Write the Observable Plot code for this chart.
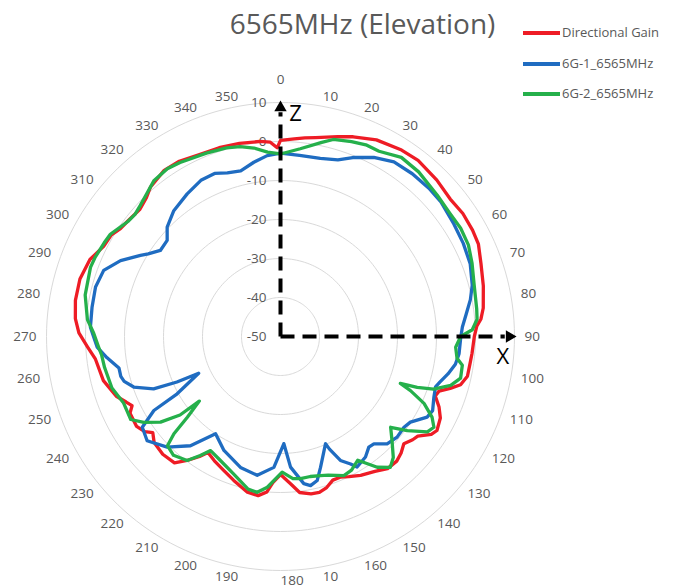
<!DOCTYPE html>
<html>
<head>
<meta charset="utf-8">
<script src="https://cdn.jsdelivr.net/npm/d3@7"></script>
<script src="https://cdn.jsdelivr.net/npm/@observablehq/plot@0.6"></script>
<style>
  body { margin: 0; background: #fff; font-family: "Open Sans", sans-serif; }
  #wrap { position: relative; width: 686px; height: 588px; overflow: hidden; background: #fff; }
  #chart { position: absolute; left: 0; top: 0; }
  #title { position: absolute; left: 0; width: 725px; top: 9px; text-align: center;
           font-size: 28px; line-height: 28px; color: #595959; white-space: nowrap; }
  .lg-line { position: absolute; left: 523px; width: 37px; height: 4px; }
  .lg-text { position: absolute; left: 562px; font-size: 13px; line-height: 13px; color: #595959; white-space: nowrap; }
</style>
</head>
<body>
<div id="wrap">
  <div id="chart"></div>
  <div id="title">6565MHz (Elevation)</div>
  <div id="legend"></div>
</div>
<script>
// ---------- data (angle in degrees, gain in dB) ----------
const seriesNames = ["Directional Gain", "6G-1_6565MHz", "6G-2_6565MHz"];
const seriesColors = ["#ee1c25", "#1f6cc1", "#25b04b"];

const redAngle = [0,4,7,10,16,20,26,33,38,45,51,56,61,65,70,76,82,85,87,90,95,98,102,105,107,109,111,114,117,121,123,126,128,131,134,137,141,145,150,154,157,160,163,166,169,173,176,180,183,185,188,192,198,203,208,212,214,217,220,225,230,233,235,238,243,245,247,250,253,256,263,267,271,275,280,286,292,297,301,304,307,312,316,319,325,330,336,342,348,354,357,359];
const redGain = [0.3,0.8,1.3,1.8,3.3,4.5,6.1,7.0,7.3,6.7,6.0,6.4,6.3,6.0,4.7,3.6,2.5,1.6,0.4,-0.3,-0.7,-0.9,-1.0,-2.2,-4.5,-7.0,-7.5,-5.5,-4.0,-3.2,-3.9,-6.5,-7.0,-8.1,-7.0,-6.3,-6.4,-7.8,-8.9,-10.0,-10.8,-10.8,-9.5,-8.8,-8.9,-9.7,-12.1,-14.6,-12.5,-10.0,-8.8,-9.2,-11.2,-12.7,-13.9,-14.9,-12.9,-10.2,-7.7,-7.3,-7.7,-9.0,-7.5,-6.5,-6.7,-8.0,-7.0,-5.2,-4.3,-3.2,-2.2,-0.4,1.7,2.8,3.4,3.5,2.7,0.9,0.6,-0.5,-0.9,-1.4,-0.5,0.8,2.0,1.9,1.1,0.9,0.6,0.3,-0.1,-1.6];

const blueAngle = [0,6,12.6,18,22,27.5,33,39,45,50,57,63,69,75,79,83,87,90.5,95.5,99,102.6,106,108,111.6,116,118.8,123.4,126.3,130.8,135.2,139,141.4,144.8,149.6,151.2,154.2,156.5,157.2,163,165.7,168.6,171,175.6,178.2,182.9,189.5,197,206.4,213.7,219.5,225.7,232,236.7,239.7,241,245.8,246.3,247.6,251,254,256,259,263,266.7,272.8,278.8,285,290.5,295.4,300.1,302,305.6,310.3,314,319.7,326.8,333,338,342,346.5,351.3,355.8];
const blueGain = [-3.0,-3.3,-3.2,-2.4,-0.5,1.8,3.4,3.7,3.8,3.7,3.0,2.6,2.1,0.9,-0.4,-2.0,-3.3,-3.8,-4.0,-4.6,-6.0,-7.5,-8.2,-7.7,-6.6,-7.1,-10.1,-10.7,-10.5,-11.2,-13.5,-13.7,-12.2,-11.2,-12.7,-14.7,-18.5,-20.2,-14.9,-11.9,-11.0,-11.8,-16.4,-22.5,-16.4,-13.9,-14.9,-17.4,-20.0,-13.7,-9.4,-6.6,-7.6,-12.4,-19.7,-27.0,-21.0,-14.8,-10.2,-8.3,-7.8,-7.8,-5.2,-2.9,-1.2,-1.1,-0.9,-1.6,-4.6,-8.5,-10.0,-12.1,-11.9,-9.6,-7.7,-6.3,-5.05,-4.9,-5.9,-6.3,-4.8,-3.5];

const greenAngle = [0,6,12,15,20,24,28,34,40,48,54,59,64,69,75,82,85,88,90,93.5,97,99,103,106,109,110.4,111.4,112.6,115,118,120.6,123,126.6,129.5,133,137,140,143.5,148,152,155.5,161,164,168,172,175,179.3,185,188.5,192,199,206,211.5,214,217,222,226,227.6,229.1,231.5,232,234.5,237.9,241,247,253,260,264,267,271,275,282,290,293,298,301,307,310,313,317,321,326,330,333,338,344,348,352,356];
const greenGain = [-3.2,-1.6,0.9,2.3,3.2,3.8,3.8,5.4,5.1,4.1,3.7,3.9,3.6,2.6,1.4,0.8,0.6,-0.8,-3.8,-5.0,-4.4,-2.8,-2.6,-4.6,-8.5,-12.6,-17.0,-13.9,-9.4,-6.0,-4.3,-5.1,-9.5,-13.4,-10.9,-7.6,-6.2,-8.3,-12.6,-11.2,-10.8,-12.4,-12.9,-13.3,-13.2,-13.4,-15.2,-11.2,-9.6,-10.0,-12.8,-14.7,-15.7,-13.2,-10.2,-9.0,-9.7,-13.0,-18.4,-23.4,-17.3,-12.2,-8.6,-6.1,-6.3,-4.8,-4.2,-3.9,-3.2,-2.1,-0.3,1.2,1.85,1.7,1.2,0.9,-1.0,-1.3,-0.8,0.2,1.5,1.9,1.5,1.1,0.7,0.3,-0.2,-1.2,-2.6];

// tick values / labels
const radialTicks = [10, 0, -10, -20, -30, -40, -50];
const ringLevels = [-40, -30, -20, -10, 0, 10];
const angleTicks = [0,10,20,30,40,50,60,70,80,90,100,110,120,130,140,150,160,170,180,190,200,210,220,230,240,250,260,270,280,290,300,310,320,330,340,350];
const angleLabels = ["0","10","20","30","40","50","60","70","80","90","100","110","120","130","140","150","160","10","180","190","200","210","220","230","240","250","260","270","280","290","300","310","320","330","340","350"];
const axisArrows = [{name: "Z", angle: 0}, {name: "X", angle: 90}];

// ---------- geometry helpers ----------
const MIN_DB = -50, MAX_DB = 10;
const R_MAX = MAX_DB - MIN_DB;              // radius units
const PX = 234 / R_MAX;                      // px per unit
const rad = a => a * Math.PI / 180;
const px = (a, g) => (g - MIN_DB) * Math.sin(rad(a));
const py = (a, g) => (g - MIN_DB) * Math.cos(rad(a));

function rows(name, angles, gains) {
  const r = angles.map((a, i) => ({series: name, angle: a, gain: gains[i]}));
  r.push({series: name, angle: 360, gain: gains[0]}); // close the radar loop
  return r;
}
const seriesRows = [
  ...rows(seriesNames[0], redAngle, redGain),
  ...rows(seriesNames[1], blueAngle, blueGain),
  ...rows(seriesNames[2], greenAngle, greenGain)
];

const ringRows = ringLevels.flatMap(l => d3.range(0, 361, 2).map(a => ({level: l, angle: a})));

// angle label placement (Excel-like: inner edge of the label touches a circle)
const LABEL_R = 244, DIGIT_W = 7.7;
const angleLabelRows = angleTicks.map((a, i) => {
  const t = angleLabels[i];
  const w = t.length * DIGIT_W;
  const sgn = a === 0 ? 0 : (a <= 180 ? 1 : -1);
  const cx = LABEL_R * Math.sin(rad(a)) + sgn * w / 2;
  const cy = LABEL_R * Math.cos(rad(a)) + (a === 0 ? 13 : 0);
  return {text: t, x: cx / PX, y: cy / PX};
});

const AX_END = R_MAX - 2.5;   // dashed shaft end
const AX_HEAD = R_MAX - 1.3;  // arrow head centroid

const chart = Plot.plot({
  width: 686,
  height: 588,
  marginLeft: 46, marginRight: 172, marginTop: 102, marginBottom: 18,
  x: {domain: [-R_MAX, R_MAX], axis: null},
  y: {domain: [-R_MAX, R_MAX], axis: null},
  color: {domain: seriesNames, range: seriesColors},
  style: {fontFamily: '"Open Sans", sans-serif', background: "transparent", overflow: "visible"},
  marks: [
    Plot.line(ringRows, {
      x: d => px(d.angle, d.level), y: d => py(d.angle, d.level), z: "level",
      stroke: "#d9d9d9", strokeWidth: 1
    }),
    Plot.text(radialTicks, {
      x: 0, y: d => d - MIN_DB, text: d => String(d),
      textAnchor: "end", dx: -14, fill: "#595959", fontSize: 13.5
    }),
    Plot.text(angleLabelRows, {
      x: "x", y: "y", text: "text", fill: "#595959", fontSize: 13.5, textAnchor: "middle"
    }),
    Plot.line(seriesRows, {
      x: d => px(d.angle, d.gain), y: d => py(d.angle, d.gain),
      z: "series", stroke: "series", strokeWidth: 3.3, strokeLinejoin: "round", strokeLinecap: "round"
    }),
    Plot.link(axisArrows, {
      x1: 0, y1: 0,
      x2: d => AX_END * Math.sin(rad(d.angle)), y2: d => AX_END * Math.cos(rad(d.angle)),
      stroke: "#000", strokeWidth: 4, strokeDasharray: "14,8", strokeLinecap: "butt"
    }),
    Plot.dot(axisArrows, {
      x: d => AX_HEAD * Math.sin(rad(d.angle)), y: d => AX_HEAD * Math.cos(rad(d.angle)),
      symbol: "triangle", r: 4.6, fill: "#000", stroke: "none", rotate: d => d.angle
    }),
    Plot.text(axisArrows.filter(d => d.name === "Z"), {
      x: 0, y: R_MAX - 2.9, text: "name", dx: 15, fontSize: 22, fill: "#000"
    }),
    Plot.text(axisArrows.filter(d => d.name === "X"), {
      x: R_MAX - 3, y: 0, text: "name", dy: 20, fontSize: 22, fill: "#000"
    })
  ]
});
document.getElementById("chart").appendChild(chart);

// legend
const legend = document.getElementById("legend");
const legendY = [33, 64, 94];
seriesNames.forEach((name, i) => {
  const line = document.createElement("div");
  line.className = "lg-line";
  line.style.top = (legendY[i] - 2) + "px";
  line.style.background = seriesColors[i];
  legend.appendChild(line);
  const txt = document.createElement("div");
  txt.className = "lg-text";
  txt.style.top = (legendY[i] - 7) + "px";
  txt.textContent = name;
  legend.appendChild(txt);
});
</script>
</body>
</html>
